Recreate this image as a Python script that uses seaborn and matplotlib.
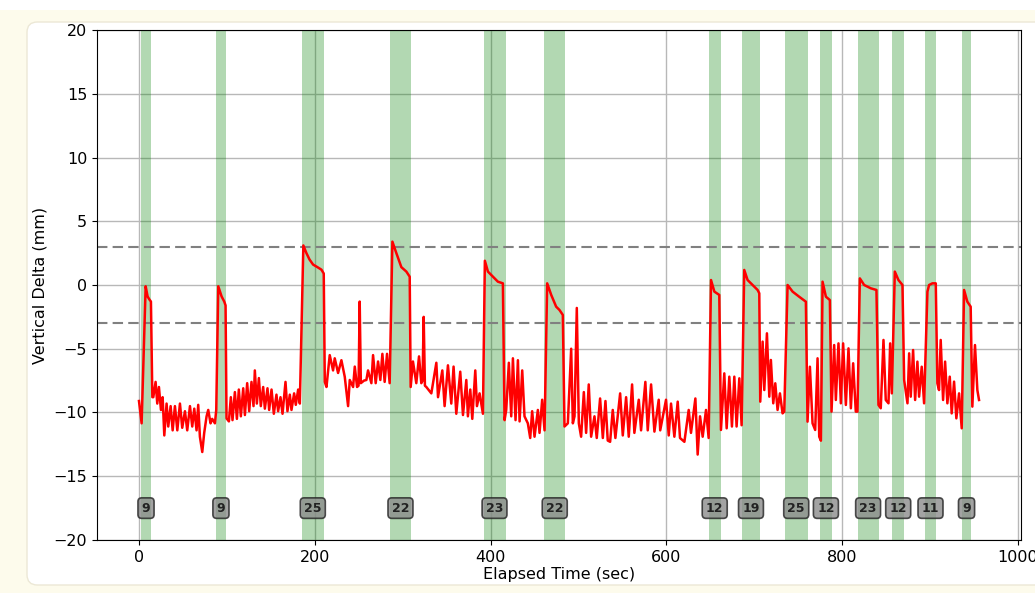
import numpy as np
import matplotlib
matplotlib.use("Agg")
import matplotlib.pyplot as plt
from matplotlib.patches import Rectangle, FancyBboxPatch
import seaborn as sns

# vertical delta trace (sec, mm)
elapsed_sec = [
    0.0, 3.0, 7.6, 9.8, 11.5, 13.6, 15.2,
    16.3, 18.9, 20.8, 22.7, 25.0, 26.9, 28.8, 31.4, 33.3, 36.0, 38.3, 40.9, 43.6,
    46.6, 49.2, 52.3, 54.9, 58.0, 60.6, 62.9, 65.5, 67.4, 69.3, 72.0, 74.2, 76.9,
    78.8, 81.4, 83.3, 86.4, 87.9,
    90.2, 94.0, 97.0, 98.5,
    99.6, 102.3, 104.5, 106.4, 109.1, 111.4, 113.6, 115.9, 118.6, 120.5, 123.1,
    125.4, 128.0, 130.3, 131.8, 134.1, 136.4, 138.6, 141.3, 143.2, 146.2, 148.1,
    150.8, 153.4, 156.4, 158.3, 161.0, 163.3, 166.7, 168.9, 171.6, 173.5, 176.5,
    178.4, 181.1, 183.0,
    187.0, 190.5, 194.0, 198.1, 203.0, 207.6, 210.2, 211.4,
    213.3, 217.0, 220.8, 222.7, 226.5, 230.3, 234.1, 237.9, 239.8, 243.6, 245.5,
    248.1, 249.8, 251.1, 252.4, 256.0, 258.7, 260.6, 264.4, 266.3, 269.3, 272.0,
    274.6, 276.9, 279.5, 282.2, 285.2,
    288.3, 292.8, 298.5, 304.2, 308.0, 309.1,
    311.7, 315.5, 318.6, 321.2, 322.6, 323.9, 325.3, 326.9, 332.6, 338.3, 340.2,
    345.1, 347.7, 351.5, 355.3, 357.9, 361.0, 365.5, 368.6, 372.4, 374.2, 376.9,
    379.2, 382.6, 384.5, 387.5, 391.3,
    393.5, 397.0, 402.7, 408.3, 414.0, 415.9,
    417.8, 420.8, 423.5, 425.4, 428.4, 431.1, 433.0, 436.0, 438.6, 442.4, 445.1,
    447.3, 450.0, 453.8, 455.7, 458.7, 461.4,
    464.4, 469.0, 474.6, 478.4, 482.2, 484.1,
    487.9, 491.7, 493.6, 495.5, 498.1, 500.4, 503.0, 506.1, 508.7, 511.7, 514.4,
    518.2, 520.8, 524.6, 527.7, 530.7, 533.3, 536.0, 539.0, 542.0, 547.4, 550.4,
    554.2, 557.2, 561.0, 563.6, 568.6, 571.2, 576.1, 578.8, 582.6, 586.4, 591.3,
    593.0, 599.6, 602.7, 605.3, 609.1, 612.9, 615.5, 620.5, 625.4, 628.0, 633.0,
    635.6, 638.3, 641.3, 645.1, 648.1,
    650.8, 654.6, 660.2, 662.1,
    665.9, 668.6, 671.6, 674.6, 677.3, 679.9, 683.0, 685.6,
    688.6, 692.4, 698.1, 703.8, 705.7, 706.8,
    709.5, 711.4, 714.4, 717.1, 718.9, 721.6, 723.9, 726.5, 729.2, 732.2, 734.1,
    737.9, 743.6, 751.1, 758.7, 760.6,
    763.3, 766.3, 769.3, 772.0, 773.9, 775.8,
    777.7, 781.5, 786.0, 787.9,
    790.9, 792.8, 795.8, 798.5, 801.1, 804.2, 807.2, 809.9, 812.5, 815.5, 817.4,
    820.1, 825.0, 832.6, 839.0, 841.3,
    843.9, 847.0, 849.6, 852.7, 854.6, 856.5,
    859.9, 864.0, 868.6, 870.5,
    874.3, 876.2, 878.0, 880.7, 883.0, 885.6, 887.5, 890.5, 893.2,
    897.0, 898.9, 902.7, 906.5, 908.3,
    910.2, 912.1, 914.8, 917.1, 919.7, 922.4, 924.6, 927.3, 929.9, 933.0, 936.0,
    938.7, 942.4, 946.2, 948.1, 951.1, 953.8, 955.7,
]
vertical_delta_mm = [
    -9.1, -10.85, -0.1, -0.9, -1.1, -1.3, -8.8,
    -8.8, -7.6, -9.3, -8.0, -9.8, -8.8, -11.8, -9.3, -11.1, -9.5, -11.4, -9.5, -11.4,
    -9.3, -11.2, -9.9, -11.4, -9.5, -11.1, -9.7, -11.4, -9.4, -11.9, -13.1, -11.6, -10.3,
    -9.8, -10.85, -10.5, -10.85, -9.8,
    -0.1, -0.9, -1.3, -1.6,
    -10.46, -10.7, -8.8, -10.6, -8.4, -10.5, -8.2, -10.3, -8.1, -10.2, -7.7,
    -9.9, -7.6, -9.5, -6.7, -9.3, -7.3, -9.5, -8.0, -9.7, -8.1, -9.8,
    -8.2, -10.1, -8.6, -9.9, -8.8, -10.1, -7.6, -9.9, -8.6, -9.8, -8.5,
    -9.4, -8.2, -9.3,
    3.1, 2.5, 2.0, 1.6, 1.4, 1.2, 0.9, -7.6,
    -8.0, -5.5, -6.7, -5.75, -6.9, -5.9, -7.2, -9.5, -7.45, -8.0, -6.4,
    -8.0, -7.9, -1.3, -7.7, -7.5, -7.45, -6.7, -7.7, -5.5, -7.7, -6.0,
    -7.45, -5.4, -7.6, -5.4, -7.7,
    3.4, 2.5, 1.4, 1.05, 0.65, -8.0,
    -6.0, -7.7, -5.6, -7.7, -7.5, -2.5, -7.9, -8.0, -8.5, -6.1, -8.8,
    -6.7, -9.5, -6.3, -9.3, -6.4, -10.1, -6.8, -10.2, -7.45, -10.3, -8.2,
    -10.5, -6.7, -9.5, -8.5, -10.1,
    1.9, 1.05, 0.65, 0.26, 0.13, -10.6,
    -9.8, -6.1, -10.3, -5.75, -10.6, -5.9, -10.7, -6.7, -10.3, -10.85, -12.0,
    -9.9, -11.9, -9.8, -11.6, -9.0, -11.4,
    0.13, -0.78, -1.7, -1.96, -2.35, -11.1,
    -10.85, -5.0, -10.85, -10.3, -1.8, -10.85, -11.9, -8.4, -11.6, -7.8, -11.9,
    -10.3, -12.0, -8.9, -12.0, -9.1, -12.2, -12.3, -9.8, -12.0, -8.5, -11.8,
    -8.8, -11.9, -7.8, -11.6, -9.0, -11.4, -7.6, -11.4, -7.8, -11.5, -9.0,
    -11.4, -9.0, -11.8, -9.3, -11.9, -9.15, -12.0, -12.3, -9.8, -11.6, -8.9,
    -13.3, -10.3, -11.9, -9.8, -12.0,
    0.39, -0.52, -0.78, -11.37,
    -6.93, -11.24, -7.19, -11.1, -7.19, -11.1, -7.32, -11.0,
    1.18, 0.39, 0.0, -0.39, -0.65, -9.15,
    -4.44, -8.24, -3.79, -8.76, -5.88, -9.28, -7.71, -9.8, -8.5, -10.07, -9.93,
    0.0, -0.52, -0.92, -1.31, -10.72,
    -6.41, -10.85, -11.37, -5.75, -11.9, -12.21,
    0.26, -0.92, -1.18, -9.93,
    -4.71, -9.02, -4.58, -9.28, -4.58, -9.41, -4.97, -9.67, -6.14, -9.93, -9.93,
    0.52, 0.0, -0.26, -0.39, -9.41,
    -9.67, -4.31, -9.02, -9.28, -4.58, -8.5,
    1.05, 0.39, 0.0, -7.45,
    -9.28, -5.36, -8.76, -5.1, -9.02, -6.01, -8.76, -6.41, -9.28,
    -0.52, 0.0, 0.13, 0.13, -7.71,
    -8.24, -4.31, -9.02, -6.01, -9.28, -7.19, -10.07, -7.58, -10.46, -8.5, -11.24,
    -0.39, -1.31, -1.7, -9.54, -4.71, -8.24, -9.02,
]

# shaded events: start / end (sec) and the number shown in each box
event_start = [2, 88, 185, 286, 392, 461, 648, 686, 734.5, 775, 817.5, 857, 894, 936]
event_end = [14, 98.5, 210.5, 309, 417, 485, 662, 706.5, 761, 788, 841.5, 870.5, 907, 947]
event_label = [9, 9, 25, 22, 23, 22, 12, 19, 25, 12, 23, 12, 11, 9]

limit_lines = [3, -3]

cream = "#fdfbec"

fig = plt.figure(figsize=(10.35, 5.93), dpi=100)
fig.patch.set_facecolor("white")
fig.patches.append(Rectangle((0, 0), 1, 1 - 10 / 593, transform=fig.transFigure,
                             facecolor=cream, edgecolor="none", zorder=-3))
fig.patches.append(FancyBboxPatch((27 / 1035, 8 / 593), 1.0, (585 - 22) / 593,
                                  boxstyle="round,pad=0,rounding_size=0.01",
                                  mutation_aspect=1035 / 593,
                                  transform=fig.transFigure, facecolor="white",
                                  edgecolor="#ece8d6", linewidth=1.0, zorder=-2))

ax = fig.add_axes([0.0937, 0.0894, 0.8928, 0.8600])
ax.set_facecolor("white")
ax.grid(True, color="#b8b8b8", linewidth=1.0)
ax.set_axisbelow(True)

for s, e, lbl in zip(event_start, event_end, event_label):
    ax.axvspan(s, e, color="green", alpha=0.3, linewidth=0)
    ax.text((s + e) / 2, -17.5, str(lbl), ha="center", va="center",
            fontsize=9, fontweight="bold", color="#222222",
            bbox=dict(boxstyle="round,pad=0.3", facecolor="#8c8c8c",
                      edgecolor="#222222", alpha=0.8, linewidth=1.2))

for yv in limit_lines:
    ax.axhline(yv, color="gray", linestyle=(0, (5, 2.5)), linewidth=1.5)

sns.lineplot(x=elapsed_sec, y=vertical_delta_mm, color="red", linewidth=1.8, ax=ax)

ax.set_ylim(-20, 20)
ax.set_yticks(np.arange(-20, 21, 5))
ax.tick_params(labelsize=11.5)
ax.set_xlabel("Elapsed Time (sec)", fontsize=11.5, labelpad=2)
ax.set_ylabel("Vertical Delta (mm)", fontsize=11.5)

fig.savefig("out.png", dpi=100, facecolor=fig.get_facecolor())
